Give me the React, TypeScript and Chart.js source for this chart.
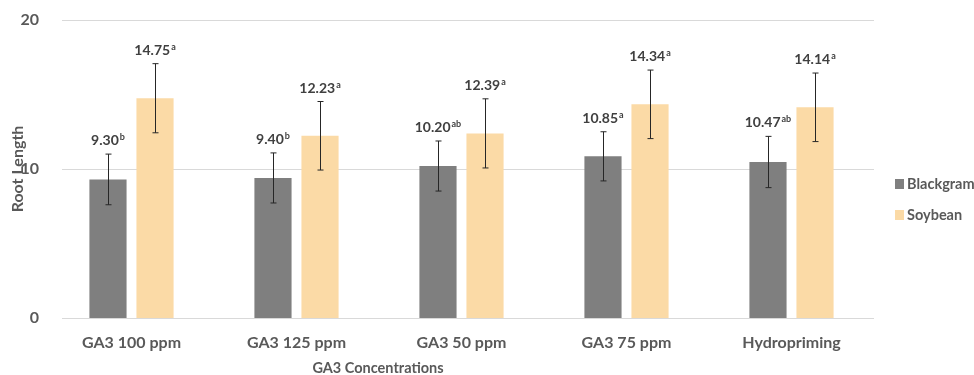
import React, { useEffect, useRef } from "react";
import { Chart, registerables } from "chart.js";

Chart.register(...registerables);

const categories = ["GA3 100 ppm", "GA3 125 ppm", "GA3 50 ppm", "GA3 75 ppm", "Hydropriming"];
const blackgram = [9.3, 9.4, 10.2, 10.85, 10.47];
const soybean = [14.75, 12.23, 12.39, 14.34, 14.14];
const blackgramErr = [1.7, 1.68, 1.68, 1.65, 1.72];
const soybeanErr = [2.32, 2.3, 2.32, 2.3, 2.3];
const blackgramLetters = ["b", "b", "ab", "a", "ab"];
const soybeanLetters = ["a", "a", "a", "a", "a"];
const yTicks = [0, 10, 20];

const FONT = "Lato, 'Open Sans', sans-serif";

export default function App() {
  const ref = useRef<HTMLCanvasElement>(null);
  useEffect(() => {
    document.body.style.margin = "0";
    const errs = [blackgramErr, soybeanErr];
    const letters = [blackgramLetters, soybeanLetters];
    const overlay = {
      id: "overlay",
      beforeDatasetsDraw(chart: any) {
        const { ctx, scales } = chart;
        const y = scales.y;
        ctx.save();
        ctx.strokeStyle = "#d9d9d9";
        ctx.lineWidth = 1;
        yTicks.forEach((t) => {
          const py = Math.round(y.getPixelForValue(t)) + 0.5;
          ctx.beginPath();
          ctx.moveTo(62, py);
          ctx.lineTo(chart.chartArea.right, py);
          ctx.stroke();
        });
        ctx.restore();
      },
      afterDatasetsDraw(chart: any) {
        const { ctx, scales } = chart;
        const y = scales.y;
        ctx.save();
        chart.data.datasets.forEach((ds: any, di: number) => {
          const meta = chart.getDatasetMeta(di);
          meta.data.forEach((bar: any, i: number) => {
            const v = ds.data[i];
            const e = errs[di][i];
            const x = Math.round(bar.x) + 0.5;
            const top = y.getPixelForValue(v + e);
            const bot = y.getPixelForValue(v - e);
            ctx.strokeStyle = "#262626";
            ctx.lineWidth = 1;
            ctx.beginPath();
            ctx.moveTo(x, top);
            ctx.lineTo(x, bot);
            ctx.moveTo(x - 3, top);
            ctx.lineTo(x + 3, top);
            ctx.moveTo(x - 3, bot);
            ctx.lineTo(x + 3, bot);
            ctx.stroke();
            const main = v.toFixed(2);
            const sup = letters[di][i];
            ctx.font = `bold 14px ${FONT}`;
            const wm = ctx.measureText(main).width;
            ctx.font = `bold 9px ${FONT}`;
            const ws = ctx.measureText(sup).width;
            const total = wm + ws + 1;
            const sx = bar.x - total / 2;
            const base = top - 9;
            ctx.fillStyle = "#404040";
            ctx.textAlign = "left";
            ctx.textBaseline = "alphabetic";
            ctx.font = `bold 14px ${FONT}`;
            ctx.fillText(main, sx, base);
            ctx.font = `bold 9px ${FONT}`;
            ctx.fillText(sup, sx + wm + 1, base - 5);
          });
        });
        // legend
        ctx.font = `bold 14.5px ${FONT}`;
        ctx.textBaseline = "middle";
        ctx.textAlign = "left";
        const legY = [184, 215];
        chart.data.datasets.forEach((ds: any, di: number) => {
          ctx.fillStyle = ds.backgroundColor;
          ctx.fillRect(895, legY[di] - 5, 9, 10);
          ctx.fillStyle = "#595959";
          ctx.fillText(ds.label, 907, legY[di]);
        });
        // axis titles
        ctx.font = `bold 14.5px ${FONT}`;
        ctx.fillStyle = "#595959";
        ctx.textAlign = "center";
        ctx.fillText("GA3 Concentrations", 378, 368);
        ctx.font = `bold 16px ${FONT}`;
        ctx.translate(18, 169);
        ctx.rotate(-Math.PI / 2);
        ctx.fillText("Root Length", 0, 0);
        ctx.restore();
      },
    };
    const chart = new Chart(ref.current!, {
      type: "bar",
      data: {
        labels: categories,
        datasets: [
          { label: "Blackgram", data: blackgram, backgroundColor: "#7f7f7f", categoryPercentage: 0.57, barPercentage: 0.79 },
          { label: "Soybean", data: soybean, backgroundColor: "#fbdaa6", categoryPercentage: 0.57, barPercentage: 0.79 },
        ],
      },
      options: {
        animation: false,
        responsive: false,
        layout: { padding: { top: 20, right: 100, left: 0, bottom: 0 } },
        plugins: { legend: { display: false }, tooltip: { enabled: false } },
        scales: {
          x: {
            grid: { display: false },
            border: { display: false },
            ticks: { color: "#595959", font: { family: FONT, size: 16, weight: "bold" }, padding: 7 },
            afterFit: (s: any) => { s.height = 57; },
          },
          y: {
            min: 0,
            max: 20,
            afterBuildTicks: (s: any) => { s.ticks = yTicks.map((v) => ({ value: v })); },
            grid: { display: false },
            border: { display: false },
            ticks: { color: "#595959", font: { family: FONT, size: 16, weight: "bold" }, padding: 2 },
            afterFit: (s: any) => { s.width = 49; },
          },
        },
      },
      plugins: [overlay],
    });
    return () => chart.destroy();
  }, []);
  return <canvas ref={ref} width={974} height={375} style={{ display: "block" }} />;
}
